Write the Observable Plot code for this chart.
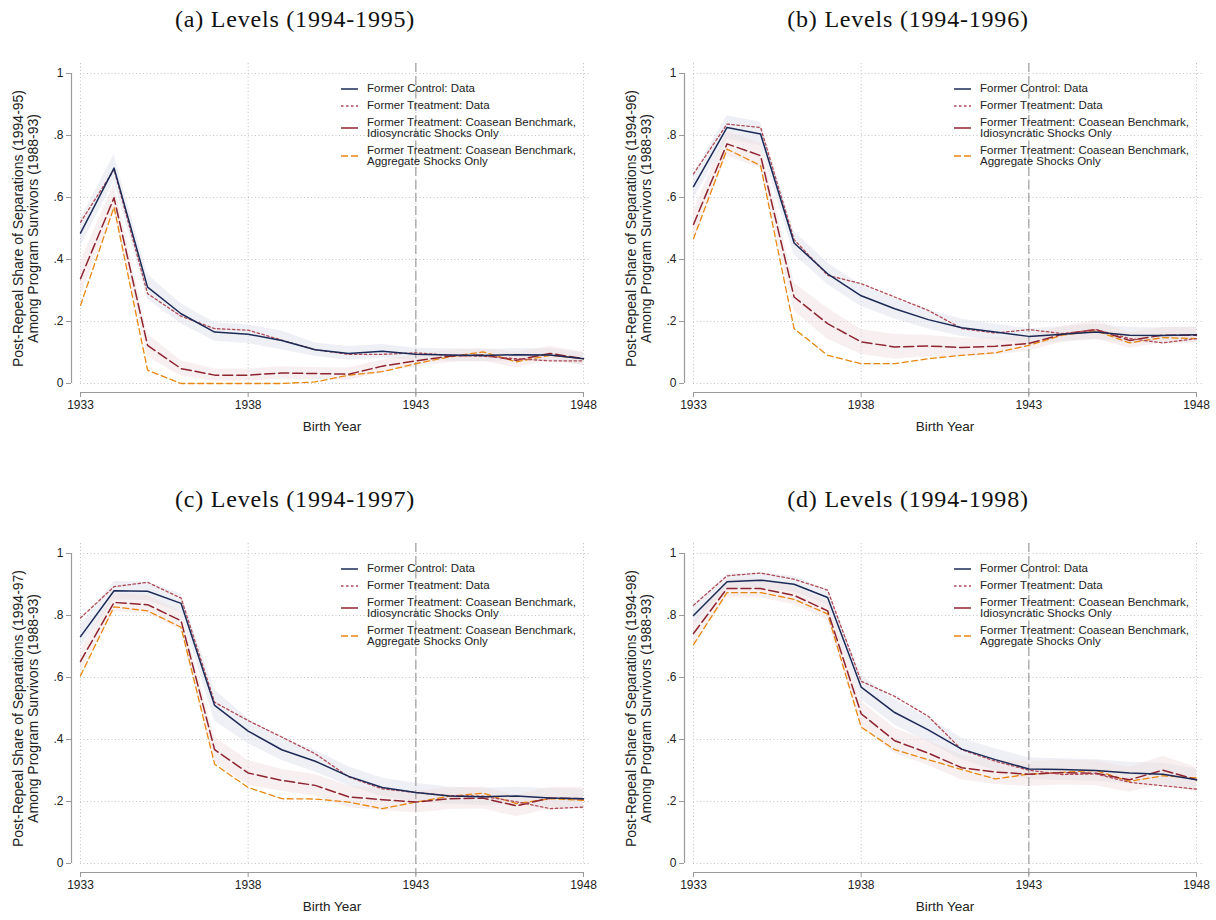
<!DOCTYPE html>
<html>
<head>
<meta charset="utf-8">
<script src="https://cdn.jsdelivr.net/npm/d3@7"></script>
<script src="https://cdn.jsdelivr.net/npm/@observablehq/plot@0.6"></script>
<style>
  html, body { margin: 0; padding: 0; background: #fff; }
  #root { position: relative; width: 1216px; height: 920px; font-family: "Liberation Sans", Arial, sans-serif; }
  .panel { position: absolute; width: 608px; height: 460px; }
  .ptitle { position: absolute; left: 0; width: 590px; top: 6px; text-align: center; font-family: "Liberation Serif", "DejaVu Serif", serif; font-size: 24px; letter-spacing: 0.8px; color: #111; }
  .plotwrap { position: absolute; left: 0; top: 40px; }
  .legend { position: absolute; left: 341px; top: 83px; font-size: 11.5px; color: #222; line-height: 11.5px; }
  .lrow { display: flex; align-items: center; margin-bottom: 5.3px; }
  .lrow svg { flex: none; margin-right: 9px; }
</style>
</head>
<body>
<div id="root"></div>
<script>
// ---------------- data ----------------
const years = [1933,1934,1935,1936,1937,1938,1939,1940,1941,1942,1943,1944,1945,1946,1947,1948];
const xTicks = [1933, 1938, 1943, 1948];
const yTicks = [0, 0.2, 0.4, 0.6, 0.8, 1];
const cutoffYear = 1943;

const panelTitles = ["(a) Levels (1994-1995)", "(b) Levels (1994-1996)", "(c) Levels (1994-1997)", "(d) Levels (1994-1998)"];
const yTitles = ["Post-Repeal Share of Separations (1994-95)", "Post-Repeal Share of Separations (1994-96)", "Post-Repeal Share of Separations (1994-97)", "Post-Repeal Share of Separations (1994-98)"];
const yTitle2 = "Among Program Survivors (1988-93)";
const xTitle = "Birth Year";
const seriesNames = ["Former Control: Data", "Former Treatment: Data", "Former Treatment: Coasean Benchmark,\nIdiosyncratic Shocks Only", "Former Treatment: Coasean Benchmark,\nAggregate Shocks Only"];

// Panel (a) 1994-1995
const ctrlA  = [0.485,0.695,0.311,0.225,0.166,0.159,0.139,0.109,0.097,0.104,0.094,0.092,0.090,0.093,0.092,0.080];
const treatA = [0.520,0.690,0.290,0.217,0.177,0.172,0.140,0.109,0.094,0.094,0.099,0.091,0.088,0.080,0.073,0.073];
const idioA  = [0.338,0.599,0.123,0.048,0.027,0.027,0.034,0.032,0.030,0.056,0.073,0.088,0.092,0.075,0.097,0.080];
const aggA   = [0.252,0.569,0.043,0.000,0.000,0.000,0.000,0.005,0.027,0.038,0.064,0.086,0.102,0.070,0.091,0.080];
const ctrlBandA = [0.045,0.042,0.040,0.032,0.030,0.030,0.030,0.022,0.022,0.022,0.020,0.020,0.020,0.020,0.020,0.020];
const idioBandA = [0.055,0.045,0.037,0.025,0.020,0.020,0.020,0.020,0.020,0.020,0.020,0.020,0.020,0.025,0.022,0.022];

// Panel (b) 1994-1996
const ctrlB  = [0.635,0.826,0.805,0.453,0.354,0.283,0.241,0.206,0.180,0.166,0.152,0.159,0.166,0.156,0.155,0.157];
const treatB = [0.676,0.837,0.826,0.464,0.349,0.322,0.279,0.236,0.177,0.163,0.174,0.161,0.174,0.145,0.131,0.145];
const idioB  = [0.513,0.773,0.735,0.279,0.193,0.134,0.118,0.121,0.116,0.120,0.129,0.159,0.174,0.139,0.156,0.156];
const aggB   = [0.467,0.756,0.703,0.177,0.091,0.064,0.064,0.080,0.091,0.099,0.123,0.156,0.170,0.131,0.148,0.145];
const ctrlBandB = [0.040,0.038,0.038,0.038,0.035,0.035,0.033,0.030,0.028,0.025,0.025,0.025,0.025,0.025,0.025,0.025];
const idioBandB = [0.045,0.040,0.040,0.045,0.050,0.040,0.040,0.035,0.030,0.028,0.025,0.025,0.030,0.025,0.025,0.025];

// Panel (c) 1994-1997
const ctrlC  = [0.732,0.880,0.878,0.839,0.510,0.427,0.367,0.330,0.281,0.245,0.229,0.218,0.215,0.218,0.211,0.209];
const treatC = [0.792,0.893,0.907,0.856,0.520,0.461,0.408,0.354,0.279,0.241,0.229,0.219,0.217,0.199,0.177,0.182];
const idioC  = [0.652,0.842,0.835,0.783,0.367,0.292,0.268,0.252,0.215,0.206,0.198,0.209,0.211,0.186,0.211,0.209];
const aggC   = [0.606,0.828,0.815,0.762,0.320,0.245,0.209,0.208,0.198,0.177,0.198,0.217,0.227,0.193,0.209,0.204];
const ctrlBandC = [0.035,0.030,0.030,0.030,0.050,0.040,0.035,0.035,0.030,0.030,0.030,0.028,0.028,0.028,0.030,0.030];
const idioBandC = [0.035,0.030,0.030,0.030,0.040,0.040,0.035,0.035,0.035,0.035,0.035,0.035,0.035,0.035,0.035,0.035];

// Panel (d) 1994-1998
const ctrlD  = [0.800,0.909,0.914,0.901,0.858,0.569,0.487,0.431,0.369,0.335,0.305,0.303,0.300,0.292,0.288,0.270];
const treatD = [0.833,0.928,0.937,0.917,0.882,0.588,0.539,0.475,0.367,0.330,0.301,0.287,0.289,0.262,0.251,0.240];
const idioD  = [0.742,0.887,0.887,0.865,0.815,0.483,0.396,0.356,0.309,0.295,0.288,0.293,0.291,0.270,0.301,0.270];
const aggD   = [0.706,0.874,0.874,0.852,0.805,0.440,0.367,0.335,0.303,0.273,0.288,0.294,0.300,0.265,0.283,0.276];
const ctrlBandD = [0.030,0.025,0.025,0.025,0.025,0.040,0.040,0.040,0.035,0.035,0.035,0.035,0.035,0.035,0.035,0.035];
const idioBandD = [0.035,0.030,0.030,0.030,0.030,0.040,0.040,0.040,0.040,0.040,0.040,0.040,0.040,0.040,0.045,0.040];

const panels = [
  {title: panelTitles[0], ytitle: yTitles[0], ctrl: ctrlA, treat: treatA, idio: idioA, agg: aggA, cb: ctrlBandA, ib: idioBandA, left: 0, top: 0},
  {title: panelTitles[1], ytitle: yTitles[1], ctrl: ctrlB, treat: treatB, idio: idioB, agg: aggB, cb: ctrlBandB, ib: idioBandB, left: 613, top: 0},
  {title: panelTitles[2], ytitle: yTitles[2], ctrl: ctrlC, treat: treatC, idio: idioC, agg: aggC, cb: ctrlBandC, ib: idioBandC, left: 0, top: 480},
  {title: panelTitles[3], ytitle: yTitles[3], ctrl: ctrlD, treat: treatD, idio: idioD, agg: aggD, cb: ctrlBandD, ib: idioBandD, left: 613, top: 480}
];

// ---------------- styles ----------------
const C_CTRL = "#1c2a57";
const C_TREAT = "#b04a55";
const C_IDIO = "#8e2430";
const C_AGG = "#e8870f";
const C_AXIS = "#9a9a9a";
const C_GRID = "#c4c4c4";
const lineStyles = [
  {stroke: C_CTRL, dash: null, width: 1.5},
  {stroke: C_TREAT, dash: "2.5,2.5", width: 1.3},
  {stroke: C_IDIO, dash: "10,4", width: 1.5},
  {stroke: C_AGG, dash: "6,3.5", width: 1.3}
];

const fmtY = d => d === 0 ? "0" : d === 1 ? "1" : String(d).replace(/^0\./, ".");

function makePanel(p) {
  const rows = years.map((x, i) => ({x, ctrl: p.ctrl[i], treat: p.treat[i], idio: p.idio[i], agg: p.agg[i], cb: p.cb[i], ib: p.ib[i]}));
  const div = document.createElement("div");
  div.className = "panel";
  div.style.left = p.left + "px";
  div.style.top = p.top + "px";

  const t = document.createElement("div");
  t.className = "ptitle";
  t.textContent = p.title;
  div.appendChild(t);

  const chart = Plot.plot({
    width: 608,
    height: 410,
    marginLeft: 80,
    marginRight: 25,
    marginTop: 33,
    marginBottom: 67,
    style: {fontFamily: "'Liberation Sans', Arial, sans-serif", background: "transparent", overflow: "visible"},
    x: {domain: [1933, 1948], axis: null},
    y: {domain: [0, 1], axis: null},
    marks: [
      Plot.gridY(yTicks, {stroke: C_GRID, strokeOpacity: 1, strokeDasharray: "1,2.5", insetRight: -8}),
      Plot.gridX(xTicks, {stroke: C_GRID, strokeOpacity: 1, strokeDasharray: "1,2.5", insetTop: -10}),
      Plot.areaY(rows, {x: "x", y1: d => Math.max(0, d.ctrl - d.cb), y2: d => d.ctrl + d.cb, fill: "#dfe2ec", fillOpacity: 0.5}),
      Plot.areaY(rows, {x: "x", y1: d => Math.max(0, d.idio - d.ib), y2: d => d.idio + d.ib, fill: "#efdede", fillOpacity: 0.45}),
      Plot.ruleX([cutoffYear], {stroke: "#a0a0a0", strokeDasharray: "9,4", strokeWidth: 1.2, insetTop: -10, insetBottom: -12}),
      Plot.lineY(rows, {x: "x", y: "agg", stroke: lineStyles[3].stroke, strokeWidth: lineStyles[3].width, strokeDasharray: lineStyles[3].dash}),
      Plot.lineY(rows, {x: "x", y: "idio", stroke: lineStyles[2].stroke, strokeWidth: lineStyles[2].width, strokeDasharray: lineStyles[2].dash}),
      Plot.lineY(rows, {x: "x", y: "treat", stroke: lineStyles[1].stroke, strokeWidth: lineStyles[1].width, strokeDasharray: lineStyles[1].dash}),
      Plot.lineY(rows, {x: "x", y: "ctrl", stroke: lineStyles[0].stroke, strokeWidth: lineStyles[0].width}),
      // axis lines offset from the plot region
      Plot.ruleX([1933], {y1: 0, y2: 1, dx: -9, stroke: C_AXIS, strokeWidth: 1.2}),
      Plot.ruleY([0], {x1: 1933, x2: 1948, dy: 9, stroke: C_AXIS, strokeWidth: 1.2}),
      Plot.axisY({ticks: yTicks, tickFormat: fmtY, tickSize: 5, tickPadding: 3, dx: -9, color: "#222", stroke: C_AXIS, fontSize: 12, label: null}),
      Plot.axisX({ticks: xTicks, tickFormat: d => String(d), tickSize: 5, tickPadding: 3, dy: 9, color: "#222", stroke: C_AXIS, fontSize: 12, label: null}),
      Plot.text([p.ytitle + "\n" + yTitle2], {frameAnchor: "left", textAnchor: "middle", rotate: -90, dx: -55, text: d => d, fontSize: 14, fill: "#222", lineHeight: 1.07, lineAnchor: "middle"}),
      Plot.text([xTitle], {frameAnchor: "bottom", dy: 47, text: d => d, fontSize: 13.5, fill: "#222"})
    ]
  });
  const wrap = document.createElement("div");
  wrap.className = "plotwrap";
  wrap.appendChild(chart);
  div.appendChild(wrap);

  // legend
  const lg = document.createElement("div");
  lg.className = "legend";
  seriesNames.forEach((name, i) => {
    const row = document.createElement("div");
    row.className = "lrow";
    const s = lineStyles[i];
    const sw = d3.create("svg").attr("width", 17).attr("height", 6);
    const legendDash = i === 2 ? null : (i === 3 ? "7,3" : "2.5,2.5");
    sw.append("line").attr("x1", 0).attr("x2", 17).attr("y1", 3).attr("y2", 3)
      .attr("stroke", s.stroke).attr("stroke-width", s.width)
      .attr("stroke-dasharray", i === 0 ? null : legendDash);
    row.appendChild(sw.node());
    const tx = document.createElement("div");
    tx.innerHTML = name.split("\n").join("<br>");
    row.appendChild(tx);
    lg.appendChild(row);
  });
  div.appendChild(lg);
  return div;
}

const root = document.getElementById("root");
panels.forEach(p => root.appendChild(makePanel(p)));
</script>
</body>
</html>
